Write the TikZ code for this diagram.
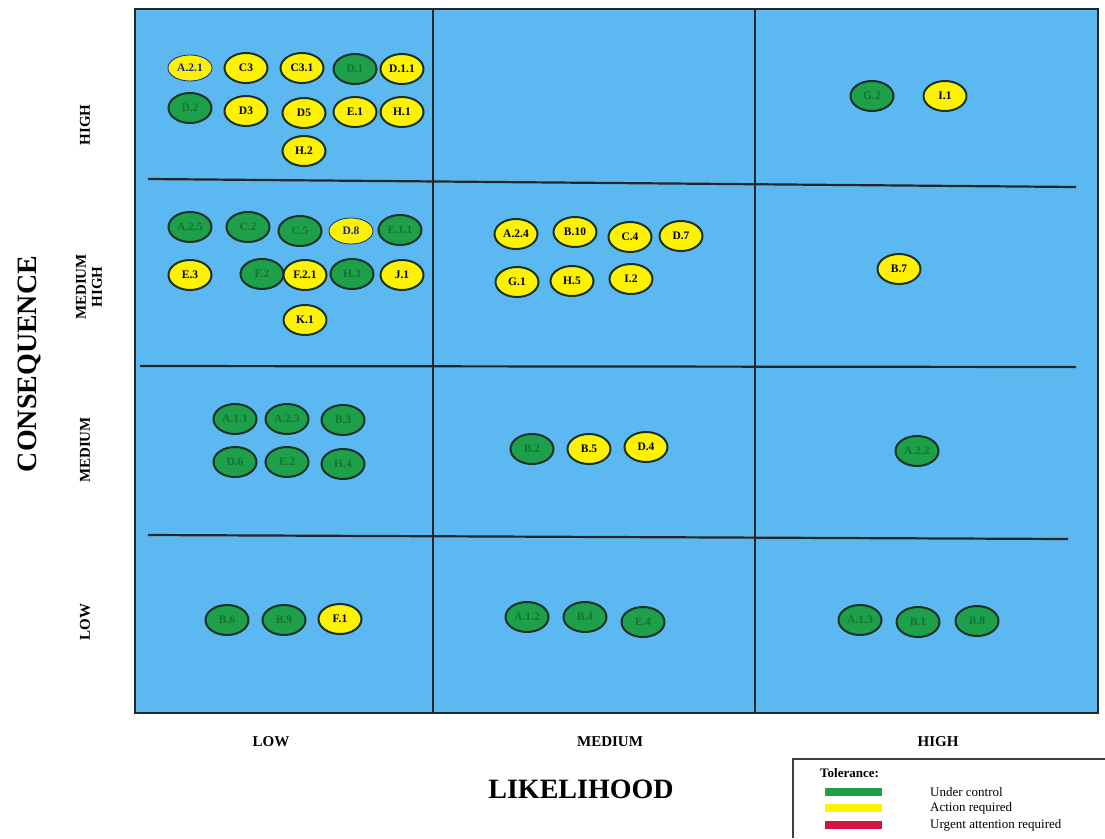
\documentclass[tikz,border=0pt]{standalone}
\usepackage{fontspec}
\setmainfont{Liberation Serif}
\usetikzlibrary{shapes.geometric}
\definecolor{bgblue}{RGB}{92,184,240}
\definecolor{gfill}{RGB}{30,160,74}
\definecolor{gtext}{RGB}{22,115,50}
\definecolor{yfill}{RGB}{255,242,0}
\definecolor{edge}{RGB}{25,50,40}
\definecolor{navy}{RGB}{20,40,140}
\definecolor{redbar}{RGB}{215,20,60}
\tikzset{
  bub/.style={ellipse, draw=edge, line width=2pt, minimum width=43pt, minimum height=30pt, inner sep=0pt,
    font=\fontsize{11.5}{12}\selectfont\bfseries},
  gr/.style={bub, fill=gfill, text=gtext},
  ye/.style={bub, fill=yfill, text=black},
  yb/.style={bub, fill=yfill, text=navy, draw=navy, line width=0.8pt, minimum height=26pt, minimum width=44pt},
  grid/.style={draw=black!85, line width=2.2pt},
  axl/.style={font=\fontsize{15}{16}\selectfont\bfseries, align=center},
  big/.style={font=\fontsize{28}{30}\selectfont\bfseries},
  leg/.style={font=\fontsize{13}{14}\selectfont, anchor=west, inner sep=0pt},
  bar/.style={line width=8pt}
}
\begin{document}
\begin{tikzpicture}[x=1pt,y=-1pt]
\useasboundingbox (0,0) rectangle (1105,838);
\fill[white] (0,0) rectangle (1105,838);
% matrix
\fill[bgblue] (135,9) rectangle (1098,713);
\draw[grid] (135,9) rectangle (1098,713);
\draw[grid] (433,9) -- (433,713);
\draw[grid] (755,9) -- (755,713);
\coordinate (h1a) at (148,179); \coordinate (h1b) at (1076,187);
\coordinate (h2a) at (140,366); \coordinate (h2b) at (1076,367);
\coordinate (h3a) at (148,535); \coordinate (h3b) at (1068,539);
\draw[grid] (h1a) -- (h1b);
\draw[grid] (h2a) -- (h2b);
\draw[grid] (h3a) -- (h3b);

% row HIGH
\node[yb] (A21) at (190,68) {A.2.1};
\node[ye] (C3) at (246,68) {C3};
\node[ye] (C31) at (302,68) {C3.1};
\node[gr] (D1) at (355,69) {D.1};
\node[ye] (D11) at (402,69) {D.1.1};
\node[gr] (D2) at (190,108) {D.2};
\node[ye] (D3) at (246,111) {D3};
\node[ye] (D5) at (304,113) {D5};
\node[ye] (E1) at (355,112) {E.1};
\node[ye] (H1) at (402,112) {H.1};
\node[ye] (H2) at (304,151) {H.2};
\node[gr] (G2) at (872,96) {G.2};
\node[ye] (I1) at (945,96) {I.1};

% row MEDIUM HIGH
\node[gr] (A25) at (190,227) {A.2.5};
\node[gr] (C2) at (248,227) {C.2};
\node[gr] (C5) at (300,231) {C.5};
\node[yb] (D8) at (351,231) {D.8};
\node[gr] (E11) at (400,230) {E.1.1};
\node[ye] (E3) at (190,275) {E.3};
\node[gr] (F2) at (262,274) {F.2};
\node[ye] (F21) at (305,275) {F.2.1};
\node[gr] (H3) at (352,274) {H.3};
\node[ye] (J1) at (402,275) {J.1};
\node[ye] (K1) at (305,320) {K.1};
\node[ye] (A24) at (516,234) {A.2.4};
\node[ye] (B10) at (575,232) {B.10};
\node[ye] (C4) at (630,237) {C.4};
\node[ye] (D7) at (681,236) {D.7};
\node[ye] (G1) at (517,282) {G.1};
\node[ye] (H5) at (572,281) {H.5};
\node[ye] (I2) at (631,279) {I.2};
\node[ye] (B7) at (899,269) {B.7};

% row MEDIUM
\node[gr] (A11) at (235,419) {A.1.1};
\node[gr] (A23) at (287,419) {A.2.3};
\node[gr] (B3) at (343,420) {B.3};
\node[gr] (D6) at (235,462) {D.6};
\node[gr] (E2) at (287,462) {E.2};
\node[gr] (H4) at (343,464) {H.4};
\node[gr] (B2) at (532,449) {B.2};
\node[ye] (B5) at (589,449) {B.5};
\node[ye] (D4) at (646,447) {D.4};
\node[gr] (A22) at (917,451) {A.2.2};

% row LOW
\node[gr] (B6) at (227,620) {B.6};
\node[gr] (B9) at (284,620) {B.9};
\node[ye] (F1) at (340,619) {F.1};
\node[gr] (A12) at (527,617) {A.1.2};
\node[gr] (B4) at (585,617) {B.4};
\node[gr] (E4) at (643,622) {E.4};
\node[gr] (A13) at (860,620) {A.1.3};
\node[gr] (B1) at (918,622) {B.1};
\node[gr] (B8) at (977,621) {B.8};

% axis labels
\node[axl, rotate=90] (lh) at (85,125) {HIGH};
\node[axl, rotate=90] (lmh) at (89,287) {MEDIUM\\HIGH};
\node[axl, rotate=90] (lm) at (85,450) {MEDIUM};
\node[axl, rotate=90] (ll) at (85,622) {LOW};
\node[big, rotate=90] (cons) at (29,364) {CONSEQUENCE};
\node[axl] (bl) at (271,742) {LOW};
\node[axl] (bm) at (610,742) {MEDIUM};
\node[axl] (bh) at (938,742) {HIGH};
\node[big] (lik) at (581,789) {LIKELIHOOD};

% legend
\draw[black!75, line width=1.2pt] (793,838) -- (793,759) -- (1105,759);
\node[leg, font=\fontsize{13}{14}\selectfont\bfseries] (tol) at (820,773) {Tolerance:};
\coordinate (g0) at (825,792); \coordinate (g1) at (882,792);
\coordinate (y0) at (825,808); \coordinate (y1) at (882,808);
\coordinate (r0) at (825,825); \coordinate (r1) at (882,825);
\draw[bar, gfill] (g0) -- (g1);
\draw[bar, yfill] (y0) -- (y1);
\draw[bar, redbar] (r0) -- (r1);
\node[leg] (t1) at (930,792) {Under control};
\node[leg] (t2) at (930,808) {Action required};
\node[leg] (t3) at (930,825) {Urgent attention required};
\end{tikzpicture}
\end{document}
